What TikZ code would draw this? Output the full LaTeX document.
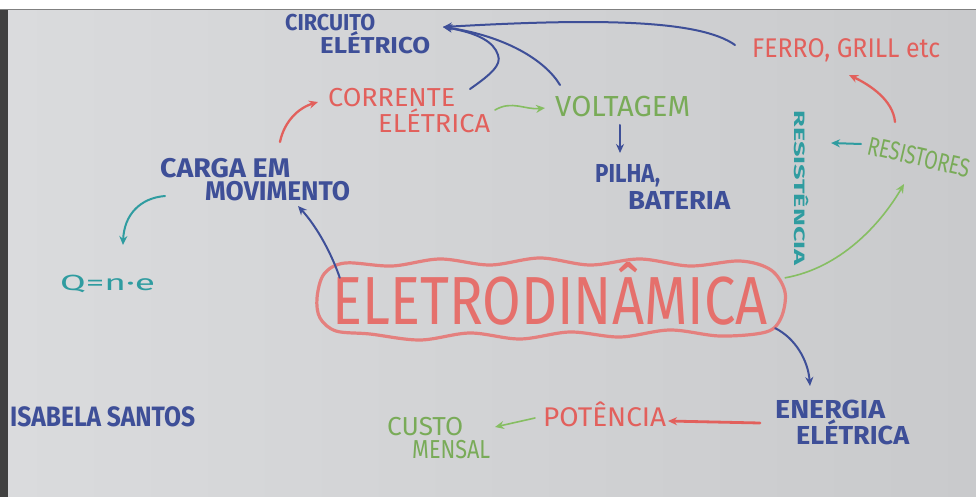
\documentclass[tikz,border=0pt]{standalone}
\usepackage{fontspec}
\setmainfont{Fira Sans}
\usetikzlibrary{arrows.meta}
\definecolor{mblue}{HTML}{3E4F98}
\definecolor{mred}{HTML}{E2605C}
\definecolor{mgreen}{HTML}{86BE62}
\definecolor{mteal}{HTML}{2F9CA0}
\definecolor{cloudred}{HTML}{E4807E}
\definecolor{paperL}{HTML}{DADBDD}
\definecolor{paperR}{HTML}{C9CACC}
\newcommand{\fw}[2]{\resizebox{#1}{\height}{#2}}
\begin{document}
\begin{tikzpicture}[x=1pt,y=-1pt,
  lab/.style={inner sep=0pt, align=left},
  fs/.style 2 args={font={\fontsize{#1}{#2}\selectfont}},
  bl/.style={lab, text=mblue, execute at begin node={\bfseries}},
  rd/.style={lab, text=mred},
  gr/.style={lab, text=mgreen!90!black},
  tl/.style={lab, text=mteal},
  arr/.style={-{Stealth[length=9pt,width=8pt]}, line cap=round},
  bluearr/.style={arr, mblue, line width=2pt},
  redarr/.style={arr, mred, line width=2.3pt},
  greenarr/.style={arr, mgreen, line width=1.6pt},
  tealarr/.style={arr, mteal, line width=2pt}
]
\useasboundingbox (0,0) rectangle (976,497);
% paper
\fill[white] (0,0) rectangle (976,497);
\shade[left color=paperL, right color=paperR] (8,10) rectangle (976,497);
\fill[black!75] (0,10) rectangle (8,497);
\draw[gray, line width=1pt] (0,9.5) -- (976,9.5);

% labels
\node[bl, fs={23}{21}, anchor=north west] (circ) at (285,14) {\fw{90pt}{CIRCUITO}\\\hspace*{35pt}\fw{110pt}{ELÉTRICO}};
\node[rd, fs={26}{26}, anchor=north west] (corr) at (328,88) {\fw{127pt}{CORRENTE}\\\hspace*{50pt}\fw{112pt}{ELÉTRICA}};
\node[gr, fs={29}{29}, anchor=base west] (volt) at (555,117) {\fw{135pt}{VOLTAGEM}};
\node[bl, fs={26}{27}, anchor=north west] (pilha) at (595,164) {\fw{65pt}{PILHA,}\\\hspace*{33pt}\fw{102pt}{BATERIA}};
\node[rd, fs={27}{27}, anchor=base west] (ferro) at (752,58) {\fw{188pt}{FERRO, GRILL etc}};
\node[gr, fs={26}{26}, anchor=base west, rotate=-13] (resist) at (866,154) {\fw{104pt}{RESISTORES}};
\node[tl, fs={15}{15}, rotate=-90, execute at begin node={\bfseries}] (resistencia) at (801,188) {\fw{155pt}{RESISTÊNCIA}};
\node[bl, fs={27}{23}, anchor=north west] (carga) at (160,158) {\fw{130pt}{CARGA EM}\\\hspace*{45pt}\fw{145pt}{MOVIMENTO}};
\node[tl, fs={22}{22}, anchor=base west] (q) at (60,290) {\fw{95pt}{Q=n·e}};
\node[bl, fs={28}{28}, anchor=base west] (isa) at (10,426) {\fw{185pt}{ISABELA SANTOS}};
\node[bl, fs={26}{26}, anchor=north west] (energia) at (775,400) {\fw{110pt}{ENERGIA}\\\hspace*{21pt}\fw{113pt}{ELÉTRICA}};
\node[rd, fs={27}{27}, anchor=base west] (pot) at (543,426) {\fw{123pt}{POTÊNCIA}};
\node[gr, fs={26}{23}, anchor=north west] (custo) at (387,417) {\fw{76pt}{CUSTO}\\\hspace*{25pt}\fw{78pt}{MENSAL}};
\node[inner sep=0pt, minimum width=470pt, minimum height=74pt, text=mred!90!white, fs={68}{68}] (elec) at (550,294) {\fw{435pt}{ELETRODINÂMICA}};
% cloud outline
\draw[cloudred, line width=3.2pt, line join=round] plot[smooth cycle, tension=0.55] coordinates {
  (317,298) (324,274) (345,263) (392,266) (440,259) (490,265) (540,258) (590,265)
  (640,259) (690,266) (740,261) (771,270) (785,292) (781,318) (766,332) (720,336)
  (670,330) (620,337) (570,332) (520,339) (470,333) (420,340) (370,334) (336,331) (320,318)};

% connectors
\draw[redarr] ([shift={(120,-16)}]carga.north west) .. controls (284,122) and (298,108) .. ([shift={(-10,14)}]corr.north west);
\draw[tealarr] ([shift={(5,38)}]carga.north west) .. controls (140,198) and (124,215) .. ([shift={(63,-45)}]q.base west);
\draw[bluearr] ([shift={(25,21)}]elec.north west) .. controls (332,255) and (318,228) .. ([shift={(138,48)}]carga.north west);
\draw[greenarr] ([shift={(167,22)}]corr.north west) .. controls (512,100) and (525,110) .. ([shift={(-10,-9)}]volt.base west);
\draw[bluearr] ([shift={(65,8)}]volt.base west) -- ([shift={(25,-11)}]pilha.north west);
\draw[bluearr] ([shift={(142,1)}]corr.north west) .. controls (490,75) and (502,65) .. (498,55) .. controls (494,42) and (478,33) .. ([shift={(158,13)}]circ.north west);
\draw[bluearr] ([shift={(5,-32)}]volt.base west) .. controls (545,60) and (505,36) .. ([shift={(158,13)}]circ.north west);
\draw[bluearr] ([shift={(-17,-13)}]ferro.base west) .. controls (700,20) and (600,18) .. ([shift={(158,13)}]circ.north west);
\draw[redarr] ([shift={(29,-32)}]resist.base west) .. controls (893,100) and (870,85) .. ([shift={(97,17)}]ferro.base west);
\draw[tealarr] ([shift={(-5,-10)}]resist.base west) -- ([shift={(30,-45)}]resistencia.center);
\draw[greenarr] ([shift={(0,21)}]elec.north east) .. controls (840,268) and (880,225) .. ([shift={(38,30)}]resist.base west);
\draw[bluearr] ([shift={(-10,-3)}]elec.south east) .. controls (795,338) and (808,360) .. ([shift={(35,-14)}]energia.north west);
\draw[redarr, line width=2.8pt] ([shift={(-15,23)}]energia.north west) -- ([shift={(125,-5)}]pot.base west);
\draw[greenarr] ([shift={(-8,-8)}]pot.base west) -- ([shift={(108,10)}]custo.north west);
\end{tikzpicture}
\end{document}
